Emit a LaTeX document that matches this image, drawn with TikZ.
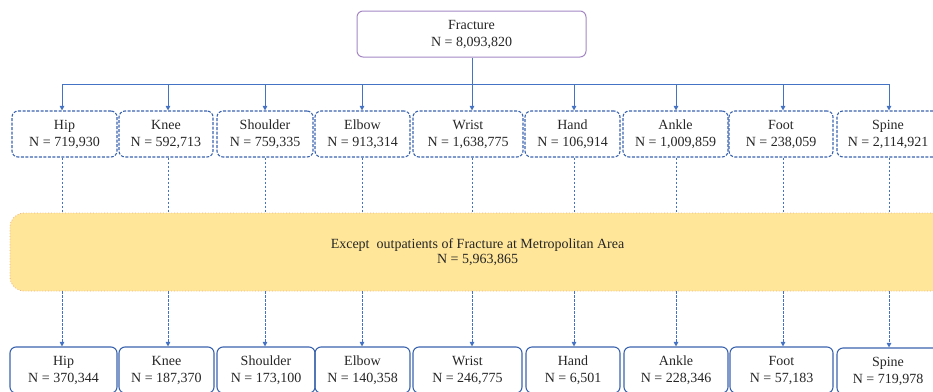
\documentclass[tikz,border=0pt]{standalone}
\usepackage{fontspec}
\setmainfont{Liberation Serif}
\usetikzlibrary{arrows.meta}
\definecolor{lineblue}{HTML}{4472C4}
\definecolor{boxblue}{HTML}{3A64AE}
\definecolor{purp}{HTML}{A587C4}
\definecolor{yel}{HTML}{FFE699}
\definecolor{yelb}{HTML}{F4B183}
\definecolor{txt}{HTML}{262626}
\tikzset{
  box/.style={draw, rounded corners=6pt, align=center, font=\fontsize{14}{17}\selectfont, text=txt, minimum height=46pt, inner sep=0pt},
  dbox/.style={box, draw=boxblue, dash pattern=on 3pt off 1.5pt, line width=1.1pt},
  sbox/.style={box, draw=boxblue, line width=1.1pt},
  conn/.style={draw=lineblue, line width=1pt},
  arr/.style={conn, -{Triangle[length=4.5pt,width=4.5pt]}},
  dconn/.style={conn, dash pattern=on 2.5pt off 1.5pt},
}
\begin{document}
\begin{tikzpicture}[x=1pt,y=-1pt]
\useasboundingbox (0,0) rectangle (933,391);
\clip (0,0) rectangle (933,391);

\node[box, draw=purp, line width=1pt, minimum width=229pt] (top) at (471.5,34) {Fracture\\N = 8,093,820};

\node[dbox, minimum width=105pt] (a1) at (64.5,134) {Hip\\N = 719,930};
\node[dbox, minimum width=94pt] (a2) at (166,134) {Knee\\N = 592,713};
\node[dbox, minimum width=96pt] (a3) at (265,134) {Shoulder\\N = 759,335};
\node[dbox, minimum width=95pt] (a4) at (362.5,134) {Elbow\\N = 913,314};
\node[dbox, minimum width=110pt] (a5) at (468,134) {Wrist\\N = 1,638,775};
\node[dbox, minimum width=95pt] (a6) at (572.5,134) {Hand\\N = 106,914};
\node[dbox, minimum width=105pt] (a7) at (675.5,134) {Ankle\\N = 1,009,859};
\node[dbox, minimum width=104pt] (a8) at (781,134) {Foot\\N = 238,059};
\node[dbox, minimum width=102pt] (a9) at (888,134) {Spine\\N = 2,114,921};

\node[box, fill=yel, draw=yelb, dotted, line width=0.8pt, minimum width=935pt, minimum height=78pt, rounded corners=14pt, font=\fontsize{14}{14.5}\selectfont] (ex) at (477.5,252) {Except\ \ outpatients of Fracture at Metropolitan Area\\N = 5,963,865};

\node[sbox, minimum width=107pt] (b1) at (63.5,370) {Hip\\N = 370,344};
\node[sbox, minimum width=95pt] (b2) at (166.5,370) {Knee\\N = 187,370};
\node[sbox, minimum width=98pt] (b3) at (266,370) {Shoulder\\N = 173,100};
\node[sbox, minimum width=95pt] (b4) at (362.5,370) {Elbow\\N = 140,358};
\node[sbox, minimum width=109pt] (b5) at (467.5,370) {Wrist\\N = 246,775};
\node[sbox, minimum width=94pt] (b6) at (573,370) {Hand\\N = 6,501};
\node[sbox, minimum width=104pt] (b7) at (676,370) {Ankle\\N = 228,346};
\node[sbox, minimum width=103pt] (b8) at (781.5,370) {Foot\\N = 57,183};
\node[sbox, minimum width=102pt] (b9) at (888,371) {Spine\\N = 719,978};

% arrow columns
\coordinate (x1) at (62,0);
\coordinate (x2) at (168,0);
\coordinate (x3) at (265,0);
\coordinate (x4) at (362,0);
\coordinate (x5) at (472,0);
\coordinate (x6) at (574,0);
\coordinate (x7) at (676,0);
\coordinate (x8) at (783,0);
\coordinate (x9) at (889,0);
\coordinate (bus) at (0,84);

\draw[conn] (x5 |- top.south) -- (x5 |- bus);
\draw[conn] (x1 |- bus) -- (x9 |- bus);
\foreach \i in {1,...,9}{
  \draw[arr] (x\i |- bus) -- (x\i |- a\i.north);
  \draw[dconn] (x\i |- a\i.south) -- (x\i |- ex.north);
  \draw[dconn, -{Triangle[length=4.5pt,width=4.5pt]}] (x\i |- ex.south) -- (x\i |- b\i.north);
}
\end{tikzpicture}
\end{document}
